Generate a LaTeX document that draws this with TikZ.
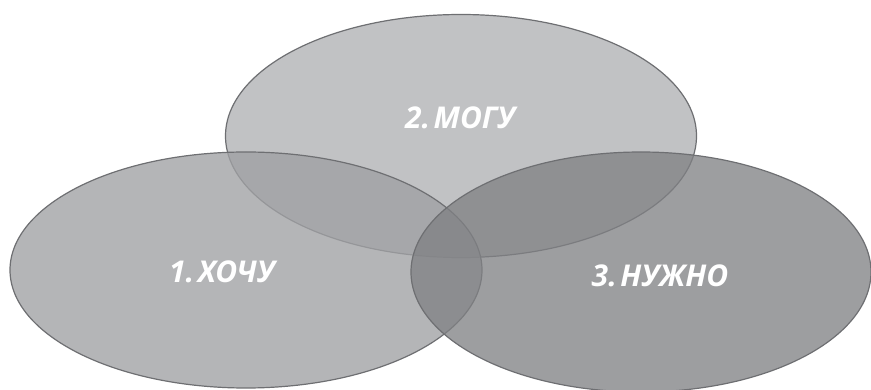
\documentclass[tikz,border=0pt]{standalone}
\usepackage{fontspec}
\setmainfont{Open Sans}
\usetikzlibrary{shapes.geometric}
\definecolor{edgegray}{HTML}{6E6F72}
\definecolor{fillmogu}{HTML}{C1C2C4}
\definecolor{fillhochu}{HTML}{A0A1A4}
\definecolor{fillnuzhno}{HTML}{808184}
\begin{document}
\begin{tikzpicture}[x=1pt,y=-1pt]
			\tikzstyle{blob}=[ellipse,draw=edgegray,line width=1.2pt,inner sep=0pt]
			\tikzstyle{tag}=[text=white,font=\fontsize{30}{30}\selectfont\bfseries\itshape]
			\useasboundingbox (0,0) rectangle (871,390);
			\clip (0,0) rectangle (871,390);
			\node[blob,fill=fillmogu,minimum width=471pt,minimum height=243pt]    (mogu)   at (461,136) {};
			\node[blob,fill=fillhochu,fill opacity=0.79,minimum width=472pt,minimum height=236pt]   (hochu)  at (246,270) {};
			\node[blob,fill=fillnuzhno,fill opacity=0.77,minimum width=460pt,minimum height=240pt]  (nuzhno) at (641,272) {};
			\node[tag]    (tmogu)   at (460,118) {2.\hspace{0.12em}МОГУ};
			\node[tag]    (thochu)  at (222,272) {1.\hspace{0.12em}ХОЧУ};
			\node[tag]    (tnuzhno) at (660,276) {3.\hspace{0.12em}НУЖНО};
		\end{tikzpicture}
\end{document}
